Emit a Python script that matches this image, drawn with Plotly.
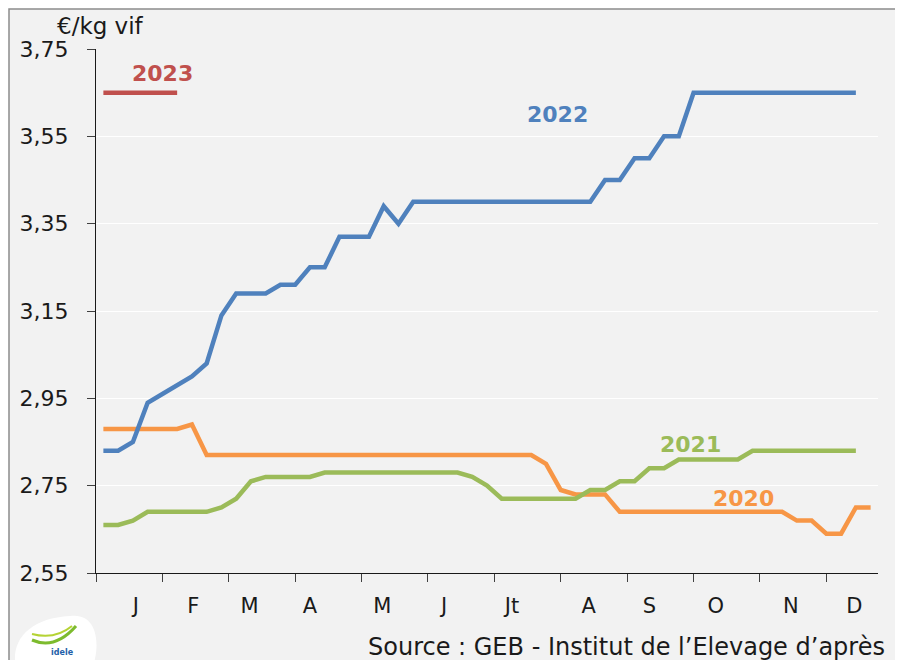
import plotly.graph_objects as go

# ---------------- data ----------------
weeks_2020 = list(range(1, 54))
weeks = list(range(1, 53))
weeks_2023 = list(range(1, 7))

prix_2020 = [2.88, 2.88, 2.88, 2.88, 2.88, 2.88, 2.89, 2.82, 2.82, 2.82,
             2.82, 2.82, 2.82, 2.82, 2.82, 2.82, 2.82, 2.82, 2.82, 2.82,
             2.82, 2.82, 2.82, 2.82, 2.82, 2.82, 2.82, 2.82, 2.82, 2.82,
             2.80, 2.74, 2.73, 2.73, 2.73, 2.69, 2.69, 2.69, 2.69, 2.69,
             2.69, 2.69, 2.69, 2.69, 2.69, 2.69, 2.69, 2.67, 2.67, 2.64,
             2.64, 2.70, 2.70]

prix_2021 = [2.66, 2.66, 2.67, 2.69, 2.69, 2.69, 2.69, 2.69, 2.70, 2.72,
             2.76, 2.77, 2.77, 2.77, 2.77, 2.78, 2.78, 2.78, 2.78, 2.78,
             2.78, 2.78, 2.78, 2.78, 2.78, 2.77, 2.75, 2.72, 2.72, 2.72,
             2.72, 2.72, 2.72, 2.74, 2.74, 2.76, 2.76, 2.79, 2.79, 2.81,
             2.81, 2.81, 2.81, 2.81, 2.83, 2.83, 2.83, 2.83, 2.83, 2.83,
             2.83, 2.83]

prix_2022 = [2.83, 2.83, 2.85, 2.94, 2.96, 2.98, 3.00, 3.03, 3.14, 3.19,
             3.19, 3.19, 3.21, 3.21, 3.25, 3.25, 3.32, 3.32, 3.32, 3.39,
             3.35, 3.40, 3.40, 3.40, 3.40, 3.40, 3.40, 3.40, 3.40, 3.40,
             3.40, 3.40, 3.40, 3.40, 3.45, 3.45, 3.50, 3.50, 3.55, 3.55,
             3.65, 3.65, 3.65, 3.65, 3.65, 3.65, 3.65, 3.65, 3.65, 3.65,
             3.65, 3.65]

prix_2023 = [3.65, 3.65, 3.65, 3.65, 3.65, 3.65]

month_labels = ["J", "F", "M", "A", "M", "J", "Jt", "A", "S", "O", "N", "D"]
month_label_pos = [3.2, 7.1, 10.9, 15.0, 19.9, 24.1, 28.7, 33.9, 38.0, 42.5, 47.6, 51.9]
month_bounds = [0.5, 5, 9.5, 14, 18.5, 23, 27.5, 32, 36.5, 41, 45.5, 50]

y_ticks = [2.55, 2.75, 2.95, 3.15, 3.35, 3.55, 3.75]

# ---------------- style ----------------
BLUE = "#4F81BD"
ORANGE = "#F79646"
GREEN = "#9BBB59"
RED = "#C0504D"
FONT = "DejaVu Sans"
TXT = "#1a1a1a"

# page body has an 8px margin: figure origin sits at page (8, 8)
W, H = 887, 652
L, R, T, B = 88, 17, 41, 87
PW, PH = W - L - R, H - T - B
PLOT_LEFT_PAGE, PLOT_BOTTOM_PAGE = 96, 573


def px(x):
    return (x - PLOT_LEFT_PAGE) / PW


def py(y):
    return (PLOT_BOTTOM_PAGE - y) / PH


fig = go.Figure()

fig.add_trace(go.Scatter(x=weeks_2020, y=prix_2020, mode="lines",
                         line=dict(color=ORANGE, width=4.5), name="2020"))
fig.add_trace(go.Scatter(x=weeks, y=prix_2021, mode="lines",
                         line=dict(color=GREEN, width=4.5), name="2021"))
fig.add_trace(go.Scatter(x=weeks, y=prix_2022, mode="lines",
                         line=dict(color=BLUE, width=4.5), name="2022"))
fig.add_trace(go.Scatter(x=weeks_2023, y=prix_2023, mode="lines",
                         line=dict(color=RED, width=4.5), name="2023",
                         xaxis="x2", yaxis="y"))

series_labels = [
    ("2023", 5.0, 3.695, RED),
    ("2022", 31.8, 3.599, BLUE),
    ("2021", 40.8, 2.845, GREEN),
    ("2020", 44.4, 2.72, ORANGE),
]
for txt, xv, yv, col in series_labels:
    fig.add_annotation(x=xv, y=yv, xref="x", yref="y", text="<b>%s</b>" % txt,
                       showarrow=False, font=dict(family=FONT, size=22, color=col),
                       xanchor="center", yanchor="middle")

fig.add_annotation(x=px(100), y=py(26), xref="paper", yref="paper", text="€/kg vif",
                   showarrow=False, font=dict(family=FONT, size=23, color=TXT),
                   xanchor="center", yanchor="middle")

fig.add_annotation(x=px(887), y=py(647), xref="paper", yref="paper",
                   text="Source : GEB - Institut de l’Elevage d’après",
                   showarrow=False, font=dict(family=FONT, size=24, color=TXT),
                   xanchor="right", yanchor="middle")

# outer frame
fig.add_shape(type="rect", xref="paper", yref="paper",
              x0=px(9), x1=px(897), y0=py(664), y1=py(9),
              fillcolor="#F2F2F2", line=dict(color="#8C8C8C", width=1.5), layer="below")

# logo approximation
fig.add_shape(type="path", xref="paper", yref="paper",
              path="M %f %f C %f %f %f %f %f %f C %f %f %f %f %f %f C %f %f %f %f %f %f Z" % (
                  px(16), py(668),
                  px(10), py(640), px(30), py(618), px(70), py(616),
                  px(100), py(612), px(100), py(650), px(92), py(668),
                  px(70), py(668), px(40), py(668), px(16), py(668)),
              fillcolor="white", line=dict(width=0), layer="below")
fig.add_shape(type="path", xref="paper", yref="paper",
              path="M %f %f Q %f %f %f %f" % (px(32), py(640), px(55), py(650), px(76), py(626)),
              line=dict(color="#7DBB2E", width=3))
fig.add_shape(type="path", xref="paper", yref="paper",
              path="M %f %f Q %f %f %f %f" % (px(32), py(634), px(55), py(640), px(72), py(626)),
              line=dict(color="#B5D334", width=2))
fig.add_annotation(x=px(62), y=py(652), xref="paper", yref="paper", text="<b>idele</b>",
                   showarrow=False, font=dict(family=FONT, size=8, color="#1F5FA8"),
                   xanchor="center", yanchor="middle")

fig.update_layout(
    width=W, height=H,
    margin=dict(l=L, r=R, t=T, b=B, autoexpand=False),
    paper_bgcolor="white",
    plot_bgcolor="#F2F2F2",
    showlegend=False,
    separators=", ",
    font=dict(family=FONT, color=TXT),
    xaxis=dict(range=[0.5, 53.5], tickvals=month_bounds, showticklabels=False,
               ticks="outside", ticklen=8, tickcolor="#404040", tickwidth=1,
               showline=True, linecolor=TXT, linewidth=1,
               showgrid=False, zeroline=False, fixedrange=True),
    xaxis2=dict(range=[0.5, 53.5], overlaying="x", anchor="y", side="bottom",
                tickvals=month_label_pos, ticktext=month_labels,
                ticks="outside", ticklen=14, tickcolor="rgba(0,0,0,0)",
                tickfont=dict(family=FONT, size=21, color=TXT),
                showline=False, showgrid=False, zeroline=False),
    yaxis=dict(range=[2.55, 3.75], tickvals=y_ticks, tickformat=".2f",
               ticks="outside", ticklen=8, tickcolor="#404040", tickwidth=1,
               ticklabelstandoff=14,
               tickfont=dict(family=FONT, size=22, color=TXT),
               showline=True, linecolor=TXT, linewidth=1,
               showgrid=True, gridcolor="white", gridwidth=1.2, zeroline=False),
)

fig.write_html("out.html")
